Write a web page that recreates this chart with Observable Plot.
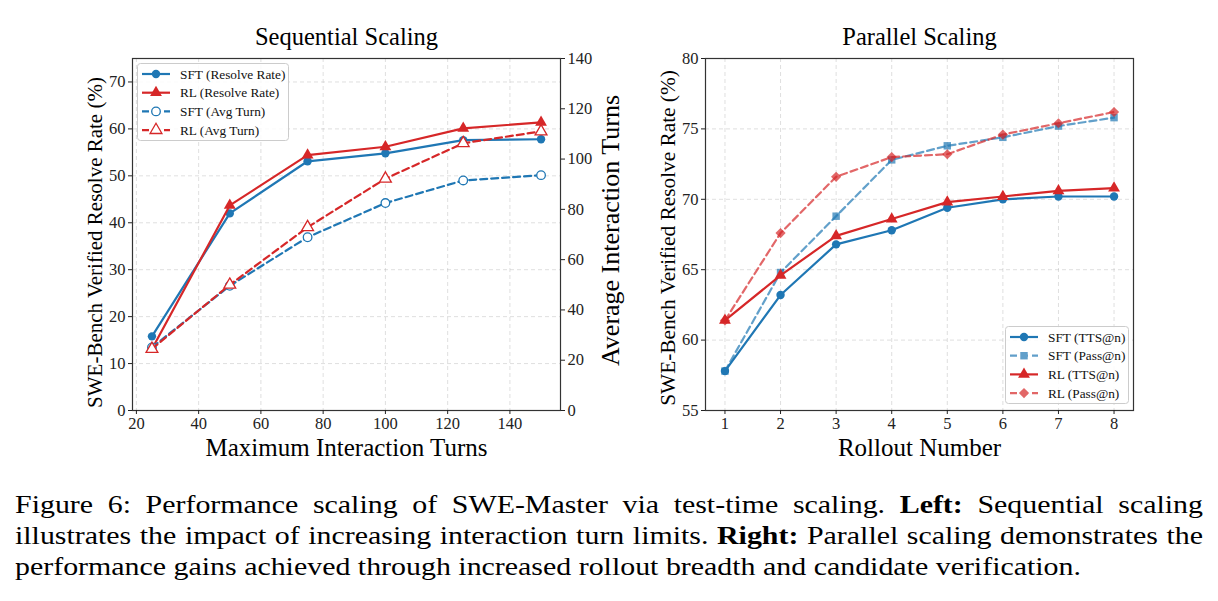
<!DOCTYPE html>
<html><head><meta charset="utf-8">
<script src="https://cdn.jsdelivr.net/npm/d3@7"></script>
<script src="https://cdn.jsdelivr.net/npm/@observablehq/plot@0.6"></script>
<style>
body{margin:0;background:#fff;width:1218px;height:601px;overflow:hidden;position:relative;font-family:"Liberation Serif","Times New Roman",serif;}
#left{position:absolute;left:0;top:0}
#right{position:absolute;left:620px;top:0}
.legend{position:absolute}
.caption{position:absolute;left:15px;width:1033px;top:489px;font-size:26px;line-height:31px;color:#000;transform:scaleX(1.15);transform-origin:left top}
.caption div{text-align:justify;text-align-last:justify;white-space:nowrap}
.caption .last{text-align-last:left}
</style>
</head><body>
<div id="left"></div>
<div id="right"></div>
<svg id="legL" class="legend" style="left:136px;top:62px" width="156" height="84"></svg>
<svg id="legR" class="legend" style="left:1004px;top:325px" width="128" height="82"></svg>
<div class="caption">
<div>Figure 6: Performance scaling of SWE-Master via test-time scaling. <b>Left:</b> Sequential scaling</div>
<div>illustrates the impact of increasing interaction turn limits. <b>Right:</b> Parallel scaling demonstrates the</div>
<div class="last">performance gains achieved through increased rollout breadth and candidate verification.</div>
</div>
<script>
// ---- data ----
const seqTurns = [25, 50, 75, 100, 125, 150];
const sftResolve = [15.8, 42.0, 53.1, 54.8, 57.6, 57.8];
const rlResolve = [13.1, 43.7, 54.4, 56.2, 60.1, 61.4];
const sftAvgTurn = [25.1, 49.6, 68.9, 82.5, 91.5, 93.6];
const rlAvgTurn = [24.5, 50.0, 72.9, 92.2, 106.3, 111.0];

const rollouts = [1, 2, 3, 4, 5, 6, 7, 8];
const sftTTS = [57.8, 63.2, 66.8, 67.8, 69.4, 70.0, 70.2, 70.2];
const sftPass = [57.8, 64.8, 68.8, 72.8, 73.8, 74.4, 75.2, 75.8];
const rlTTS = [61.4, 64.6, 67.4, 68.6, 69.8, 70.2, 70.6, 70.8];
const rlPass = [61.4, 67.6, 71.6, 73.0, 73.2, 74.6, 75.4, 76.2];

const seqXTicks = [20, 40, 60, 80, 100, 120, 140];
const seqYTicks = [0, 10, 20, 30, 40, 50, 60, 70];
const turnTicks = [0, 20, 40, 60, 80, 100, 120, 140];
const parYTicks = [55, 60, 65, 70, 75, 80];

const seqLegend = ["SFT (Resolve Rate)", "RL (Resolve Rate)", "SFT (Avg Turn)", "RL (Avg Turn)"];
const parLegend = ["SFT (TTS@n)", "SFT (Pass@n)", "RL (TTS@n)", "RL (Pass@n)"];

const BLUE = "#1f77b4", RED = "#d62728";
const FONT = "'Liberation Serif','Times New Roman',serif";
const gridStyle = {stroke: "#b0b0b0", strokeOpacity: 0.5, strokeDasharray: "4,3", strokeWidth: 0.8};
const turnMax = 140, leftMax = 75, k = leftMax / turnMax;
const DASH = "7,4";
const lab = {fill: "#000", textAnchor: "middle", lineAnchor: "middle"};

// ---- left: sequential ----
const left = Plot.plot({
  width: 620, height: 470,
  marginLeft: 132, marginRight: 60, marginTop: 58, marginBottom: 60,
  style: {fontFamily: FONT, fontSize: "16.5px", color: "#222", background: "transparent", overflow: "visible"},
  x: {domain: [18.75, 156.25]},
  y: {domain: [0, leftMax]},
  marks: [
    Plot.gridX(seqXTicks, gridStyle),
    Plot.gridY(seqYTicks, gridStyle),
    Plot.frame({stroke: "#333", strokeWidth: 1.2}),
    Plot.axisX(seqXTicks, {tickSize: 4, tickPadding: 3, label: null}),
    Plot.axisY(seqYTicks, {anchor: "left", tickSize: 4, tickPadding: 3, label: null}),
    Plot.axisY(turnTicks.map(t => t * k), {anchor: "right", tickSize: 4, tickPadding: 3, label: null, tickFormat: d => String(Math.round(d / k))}),
    Plot.lineY(sftResolve, {x: seqTurns, stroke: BLUE, strokeWidth: 2.2}),
    Plot.dot(sftResolve, {x: seqTurns, y: d => d, symbol: "circle", fill: BLUE, r: 4.2}),
    Plot.lineY(rlResolve, {x: seqTurns, stroke: RED, strokeWidth: 2.2}),
    Plot.dot(rlResolve, {x: seqTurns, y: d => d, symbol: "triangle", fill: RED, r: 4.4}),
    Plot.lineY(sftAvgTurn.map(v => v * k), {x: seqTurns, stroke: BLUE, strokeWidth: 2.2, strokeDasharray: DASH}),
    Plot.dot(sftAvgTurn.map(v => v * k), {x: seqTurns, y: d => d, symbol: "circle", fill: "white", stroke: BLUE, strokeWidth: 1.3, r: 4.3}),
    Plot.lineY(rlAvgTurn.map(v => v * k), {x: seqTurns, stroke: RED, strokeWidth: 2.2, strokeDasharray: DASH}),
    Plot.dot(rlAvgTurn.map(v => v * k), {x: seqTurns, y: d => d, symbol: "triangle", fill: "white", stroke: RED, strokeWidth: 1.3, r: 4.4}),
    Plot.text(["Sequential Scaling"], {...lab, frameAnchor: "top", dy: -21, fontSize: 24.5}),
    Plot.text(["Maximum Interaction Turns"], {...lab, frameAnchor: "bottom", dy: 37, fontSize: 25}),
    Plot.text(["SWE-Bench Verified Resolve Rate (%)"], {...lab, frameAnchor: "left", dx: -37, dy: 8, rotate: -90, fontSize: 21}),
    Plot.text(["Average Interaction Turns"], {...lab, frameAnchor: "right", dx: 50, dy: -4, rotate: -90, fontSize: 26})
  ]
});
document.getElementById("left").appendChild(left);

// ---- right: parallel ----
const right = Plot.plot({
  width: 598, height: 470,
  marginLeft: 85, marginRight: 85, marginTop: 58, marginBottom: 60,
  style: {fontFamily: FONT, fontSize: "16.5px", color: "#222", background: "transparent", overflow: "visible"},
  x: {domain: [0.65, 8.35]},
  y: {domain: [55, 80]},
  marks: [
    Plot.gridX(rollouts, gridStyle),
    Plot.gridY(parYTicks, gridStyle),
    Plot.frame({stroke: "#333", strokeWidth: 1.2}),
    Plot.axisX(rollouts, {tickSize: 4, tickPadding: 3, label: null}),
    Plot.axisY(parYTicks, {anchor: "left", tickSize: 4, tickPadding: 3, label: null}),
    Plot.lineY(sftTTS, {x: rollouts, stroke: BLUE, strokeWidth: 2.2}),
    Plot.dot(sftTTS, {x: rollouts, y: d => d, symbol: "circle", fill: BLUE, r: 4.2}),
    Plot.lineY(sftPass, {x: rollouts, stroke: BLUE, strokeWidth: 2.2, strokeOpacity: 0.7, strokeDasharray: DASH}),
    Plot.dot(sftPass, {x: rollouts, y: d => d, symbol: "square", fill: BLUE, fillOpacity: 0.7, r: 4.2}),
    Plot.lineY(rlTTS, {x: rollouts, stroke: RED, strokeWidth: 2.2}),
    Plot.dot(rlTTS, {x: rollouts, y: d => d, symbol: "triangle", fill: RED, r: 4.4}),
    Plot.lineY(rlPass, {x: rollouts, stroke: RED, strokeWidth: 2.2, strokeOpacity: 0.7, strokeDasharray: DASH}),
    Plot.dot(rlPass, {x: rollouts, y: d => d, symbol: "diamond2", fill: RED, fillOpacity: 0.7, r: 4.6}),
    Plot.text(["Parallel Scaling"], {...lab, frameAnchor: "top", dy: -21, fontSize: 24.5}),
    Plot.text(["Rollout Number"], {...lab, frameAnchor: "bottom", dy: 37, fontSize: 25}),
    Plot.text(["SWE-Bench Verified Resolve Rate (%)"], {...lab, frameAnchor: "left", dx: -37, dy: 3.5, rotate: -90, fontSize: 21.3})
  ]
});
document.getElementById("right").appendChild(right);

// ---- legends ----
function legend(id, labels, styles, w, h) {
  const svg = d3.select("#" + id);
  svg.append("rect").attr("x", 1.5).attr("y", 1.5).attr("width", w - 3).attr("height", h - 3)
    .attr("rx", 3).attr("fill", "white").attr("fill-opacity", 0.85).attr("stroke", "#ccc");
  labels.forEach((lab, i) => {
    const s = styles[i], y = 12 + i * 18.7;
    const g = svg.append("g").attr("opacity", s.op || 1);
    g.append("line").attr("x1", 6).attr("x2", 34).attr("y1", y).attr("y2", y)
      .attr("stroke", s.c).attr("stroke-width", 2.2).attr("stroke-dasharray", s.dash ? DASH : null);
    const r = s.r;
    g.append("path").attr("transform", `translate(20,${y})`)
      .attr("d", d3.symbol(s.sym, Math.PI * r * r)())
      .attr("fill", s.open ? "white" : s.c).attr("stroke", s.open ? s.c : "none").attr("stroke-width", 1.3);
    svg.append("text").attr("x", 44).attr("y", y).attr("dy", "0.35em")
      .attr("font-family", FONT).attr("font-size", 13.3).attr("fill", "#111").text(lab);
  });
}
legend("legL", seqLegend, [
  {c: BLUE, sym: d3.symbolCircle, r: 4.2},
  {c: RED, sym: d3.symbolTriangle, r: 4.4},
  {c: BLUE, sym: d3.symbolCircle, r: 4.3, open: true, dash: true},
  {c: RED, sym: d3.symbolTriangle, r: 4.4, open: true, dash: true}
], 154, 80);
legend("legR", parLegend, [
  {c: BLUE, sym: d3.symbolCircle, r: 4.2},
  {c: BLUE, sym: d3.symbolSquare, r: 4.2, dash: true, op: 0.7},
  {c: RED, sym: d3.symbolTriangle, r: 4.4},
  {c: RED, sym: d3.symbolDiamond2, r: 4.6, dash: true, op: 0.7}
], 126, 80);
</script>
</body></html>
